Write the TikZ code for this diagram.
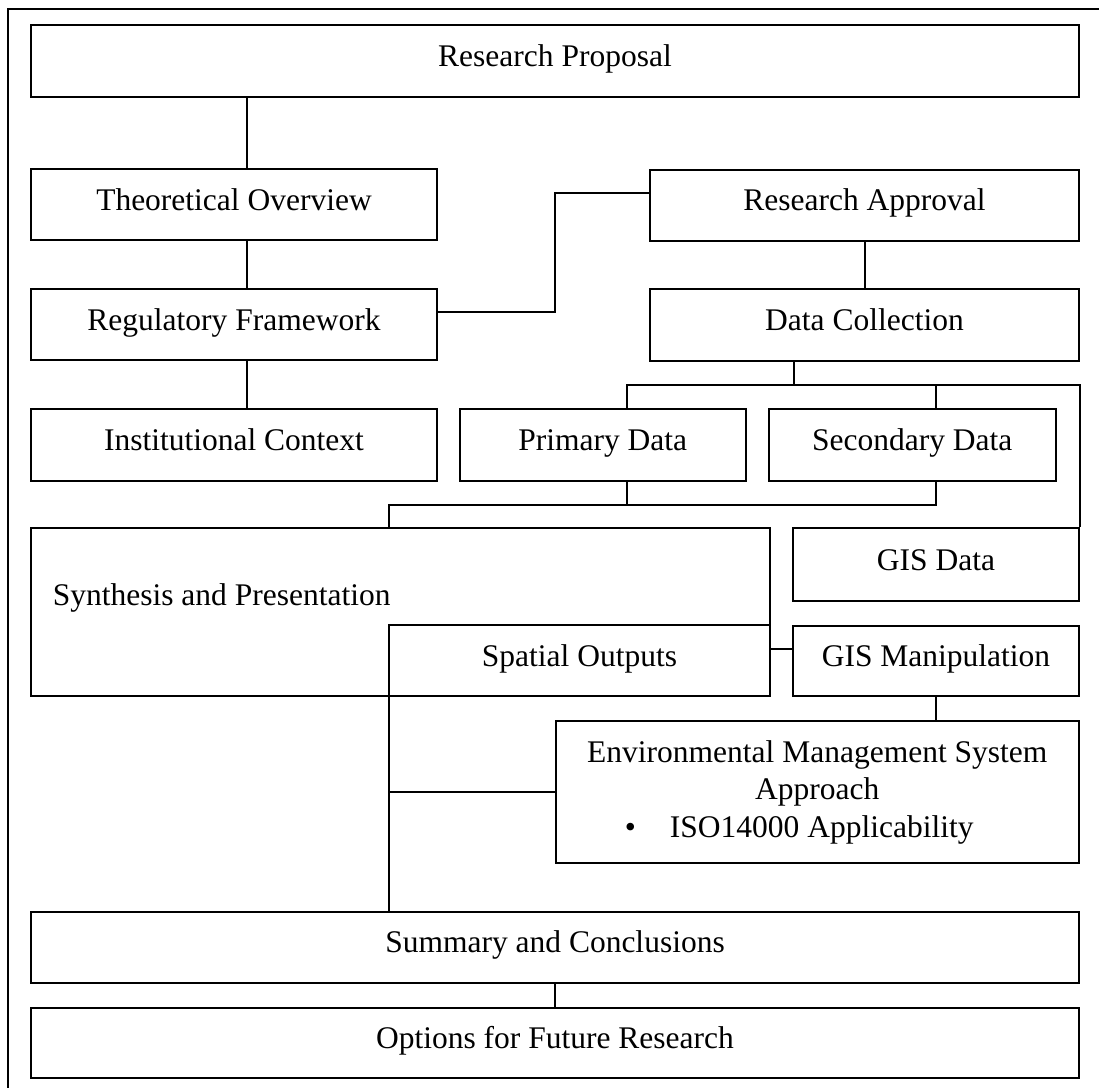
\documentclass[tikz,border=0pt]{standalone}
\usepackage{fontspec}
\setmainfont{Liberation Serif}
\tikzset{
  framebox/.style={draw, line width=2pt, inner sep=0pt, font=\fontsize{31.5}{37.5}\selectfont},
  box/.style={framebox, text height=21pt, text depth=9.5pt},
  link/.style={line width=2pt},
}
\begin{document}
\begin{tikzpicture}[x=1pt,y=-1pt]
\useasboundingbox (0,0) rectangle (1099,1087);
% outer frame (right and bottom edges lie outside the picture)
\draw[link] (8,1120) -- (8,9) -- (1120,9);

% boxes
\node[box, minimum width=1048pt, minimum height=72pt] (rp) at (555,61) {Research Proposal};
\node[box, minimum width=406pt, minimum height=71pt] (to) at (234,204.5) {Theoretical Overview};
\node[box, minimum width=429pt, minimum height=71pt] (ra) at (864.5,205) {Research Approval};
\node[box, minimum width=406pt, minimum height=71pt] (rf) at (234,324.5) {Regulatory Framework};
\node[box, minimum width=429pt, minimum height=71.5pt] (dc) at (864.5,324.75) {Data Collection};
\node[box, minimum width=406pt, minimum height=71.5pt] (ic) at (234,444.75) {Institutional Context};
\node[box, minimum width=285.5pt, minimum height=72pt] (pd) at (602.75,445) {Primary Data};
\node[box, minimum width=286.5pt, minimum height=72pt] (sd) at (912.25,445) {Secondary Data};
\node[framebox, minimum width=739pt, minimum height=168pt] (sp) at (400.5,612) {};
\node[font=\fontsize{31.5}{37.5}\selectfont, anchor=base west, inner sep=0pt] (sptext) at (52.6,605) {Synthesis and Presentation};
\node[box, minimum width=286pt, minimum height=72.7pt] (gd) at (936,564.35) {GIS Data};
\node[box, minimum width=381pt, minimum height=71pt] (so) at (579.5,660.5) {Spatial Outputs};
\node[box, minimum width=286pt, minimum height=70.5pt] (gm) at (936,660.75) {GIS Manipulation};
\node[framebox, align=center, minimum width=523.5pt, minimum height=142.3pt] (ems) at (817.25,792.15)
  {Environmental Management System\\Approach\\\textbullet\hspace{34pt}ISO14000 Applicability\hbox to 36pt{}};
\node[box, minimum width=1048pt, minimum height=71pt] (sc) at (555,947.2) {Summary and Conclusions};
\node[box, minimum width=1048pt, minimum height=70pt] (of) at (555,1042.7) {Options for Future Research};

% helper coordinates for connector positions
\coordinate (xa) at (246.6,0);
\coordinate (j1) at (555.3,312.3);
\coordinate (ya) at (0,193);
\coordinate (bus) at (793.6,385.3);
\coordinate (xpd) at (627,0);
\coordinate (xsd) at (935.7,0);
\coordinate (bus2) at (935.7,505);
\coordinate (xs) at (388.8,0);
\coordinate (yso) at (0,649);
\coordinate (xsc) at (555.3,0);

% connectors
\draw[link] (rp.south -| xa) -- (to.north -| xa);
\draw[link] (to.south -| xa) -- (rf.north -| xa);
\draw[link] (rf.south -| xa) -- (ic.north -| xa);
\draw[link] (rf.east |- j1) -- (j1) |- (ra.west |- ya);
\draw[link] (ra.south) -- (dc.north);
\draw[link] (dc.south -| bus) -- (bus);
\draw[link] (pd.north -| xpd) |- (gd.north east |- bus) -- (gd.north east);
\draw[link] (sd.north -| xsd) -- (xsd |- bus);
\draw[link] (pd.south -| xpd) -- (xpd |- bus2);
\draw[link] (sd.south -| xsd) -- (bus2) -- (xs |- bus2) -- (sp.north -| xs);
\draw[link] (so.east |- yso) -- (gm.west |- yso);
\draw[link] (gm.south) -- (gm.south |- ems.north);
\draw[link] (sp.south -| xs) -- (sc.north -| xs);
\draw[link] (ems.west) -- (ems.west -| xs);
\draw[link] (sc.south -| xsc) -- (of.north -| xsc);
\end{tikzpicture}
\end{document}
